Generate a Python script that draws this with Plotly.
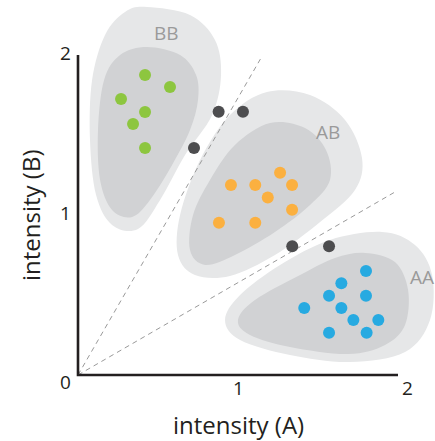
import numpy as np
import plotly.graph_objects as go

# ---- genotype clusters (intensity A, intensity B) ----
bb_x = [0.419, 0.575, 0.269, 0.419, 0.344, 0.419]
bb_y = [1.875, 1.800, 1.725, 1.644, 1.569, 1.419]

ab_x = [1.263, 0.956, 1.108, 1.338, 1.186, 1.338, 0.881, 1.108]
ab_y = [1.264, 1.188, 1.188, 1.188, 1.110, 1.033, 0.952, 0.952]

aa_x = [1.800, 1.646, 1.569, 1.800, 1.414, 1.646, 1.721, 1.877, 1.569, 1.804]
aa_y = [0.650, 0.573, 0.496, 0.496, 0.419, 0.419, 0.344, 0.344, 0.264, 0.264]

# ambiguous calls sitting between clusters
nc_x = [0.725, 0.879, 1.031, 1.339, 1.569]
nc_y = [1.419, 1.645, 1.645, 0.804, 0.804]

# decision boundaries through the origin (degrees), and their length
boundary_angles = [30, 60]
boundary_length = 2.28

# cluster regions: outer (light) and inner (dark) outlines
bb_outer = [(0.431, 2.300), (0.700, 2.250), (0.856, 2.094), (0.894, 1.875), (0.838, 1.625),
            (0.669, 1.375), (0.513, 1.094), (0.375, 0.913), (0.213, 0.938), (0.113, 1.125),
            (0.075, 1.469), (0.088, 1.844), (0.169, 2.125), (0.294, 2.269)]
bb_inner = [(0.431, 2.050), (0.638, 2.000), (0.738, 1.875), (0.750, 1.719), (0.700, 1.531),
            (0.588, 1.313), (0.450, 1.094), (0.338, 0.988), (0.213, 1.031), (0.138, 1.219),
            (0.125, 1.531), (0.163, 1.844), (0.263, 2.000)]
ab_outer = [(1.181, 1.769), (1.450, 1.750), (1.669, 1.594), (1.775, 1.356), (1.731, 1.156),
            (1.513, 0.956), (1.231, 0.750), (0.950, 0.619), (0.731, 0.625), (0.625, 0.750),
            (0.638, 1.000), (0.763, 1.344), (0.950, 1.625)]
ab_inner = [(1.200, 1.575), (1.419, 1.544), (1.550, 1.406), (1.575, 1.219), (1.450, 1.063),
            (1.231, 0.894), (0.981, 0.750), (0.794, 0.688), (0.700, 0.781), (0.719, 1.000),
            (0.825, 1.219), (0.981, 1.438)]
aa_outer = [(1.900, 0.894), (2.106, 0.813), (2.213, 0.625), (2.200, 0.344), (2.044, 0.144),
            (1.700, 0.081), (1.325, 0.125), (1.013, 0.219), (0.919, 0.344), (1.013, 0.500),
            (1.263, 0.688), (1.575, 0.844)]
aa_inner = [(1.794, 0.763), (1.981, 0.706), (2.063, 0.531), (2.044, 0.313), (1.919, 0.188),
            (1.688, 0.131), (1.325, 0.175), (1.075, 0.250), (1.000, 0.344), (1.106, 0.469),
            (1.388, 0.625), (1.606, 0.731)]

cluster_labels = ["BB", "AB", "AA"]
cluster_label_pos = [(0.55, 2.14), (1.56, 1.52), (2.15, 0.61)]

tick_values = [0, 1, 2]
tick_labels = ["0", "1", "2"]

LIGHT = "#e6e7e8"
DARK = "#d1d2d4"
FONT = "Open Sans"


def closed_smooth_path(pts):
    """Closed Catmull-Rom curve through pts, as an SVG path of cubic Beziers."""
    p = np.array(pts)
    n = len(p)
    d = f"M {p[0][0]},{p[0][1]} "
    for i in range(n):
        p0, p1, p2, p3 = p[i - 1], p[i], p[(i + 1) % n], p[(i + 2) % n]
        c1 = p1 + (p2 - p0) / 6
        c2 = p2 - (p3 - p1) / 6
        d += f"C {c1[0]},{c1[1]} {c2[0]},{c2[1]} {p2[0]},{p2[1]} "
    return d + "Z"


fig = go.Figure()

shapes = []
for outline, color in [(bb_outer, LIGHT), (ab_outer, LIGHT), (aa_outer, LIGHT),
                       (bb_inner, DARK), (ab_inner, DARK), (aa_inner, DARK)]:
    shapes.append(dict(type="path", path=closed_smooth_path(outline), xref="x", yref="y",
                       fillcolor=color, line=dict(width=0), layer="below"))

# dashed decision boundaries
for ang in boundary_angles:
    r = np.radians(ang)
    fig.add_trace(go.Scatter(x=[0, boundary_length * np.cos(r)], y=[0, boundary_length * np.sin(r)],
                             mode="lines", line=dict(color="#9a9a9a", width=1, dash="5px,4px"),
                             hoverinfo="skip", showlegend=False))

# axes lines
fig.add_trace(go.Scatter(x=[0, 0, 2], y=[2, 0, 0], mode="lines",
                         line=dict(color="#231f20", width=2.6), hoverinfo="skip", showlegend=False))

for xs, ys, col in [(bb_x, bb_y, "#8dc63f"), (ab_x, ab_y, "#fbb040"),
                    (aa_x, aa_y, "#27aae1"), (nc_x, nc_y, "#4d4d4f")]:
    fig.add_trace(go.Scatter(x=xs, y=ys, mode="markers",
                             marker=dict(color=col, size=12, line=dict(width=0)),
                             showlegend=False))

ann = []
for lab, (lx, ly) in zip(cluster_labels, cluster_label_pos):
    ann.append(dict(x=lx, y=ly, text=lab, showarrow=False, xref="x", yref="y",
                    font=dict(family=FONT, size=19, color="#9a9a9a")))

# tick labels
for v, t in zip(tick_values, tick_labels):
    if v == 0:
        ann.append(dict(x=-0.08, y=-0.045, text=t, showarrow=False,
                        font=dict(family=FONT, size=19, color="#231f20")))
        continue
    ann.append(dict(x=v + (0.0 if v < 2 else 0.06), y=-0.08, text=t, showarrow=False,
                    font=dict(family=FONT, size=19, color="#231f20")))
    ann.append(dict(x=-0.08, y=v + 0.015, text=t, showarrow=False,
                    font=dict(family=FONT, size=19, color="#231f20")))

ann.append(dict(x=1.0, y=-0.31, text="intensity (A)", showarrow=False,
                font=dict(family=FONT, size=24, color="#231f20")))
ann.append(dict(x=-0.3, y=1.0, text="intensity (B)", showarrow=False, textangle=-90,
                font=dict(family=FONT, size=24, color="#231f20")))

fig.update_layout(
    width=435, height=441,
    margin=dict(l=0, r=0, t=0, b=0),
    paper_bgcolor="white", plot_bgcolor="white",
    xaxis=dict(range=[-0.4875, 2.23125], visible=False, fixedrange=True),
    yaxis=dict(range=[-0.4125, 2.34375], visible=False, fixedrange=True),
    shapes=shapes, annotations=ann, showlegend=False,
)

fig.write_html("out.html")
